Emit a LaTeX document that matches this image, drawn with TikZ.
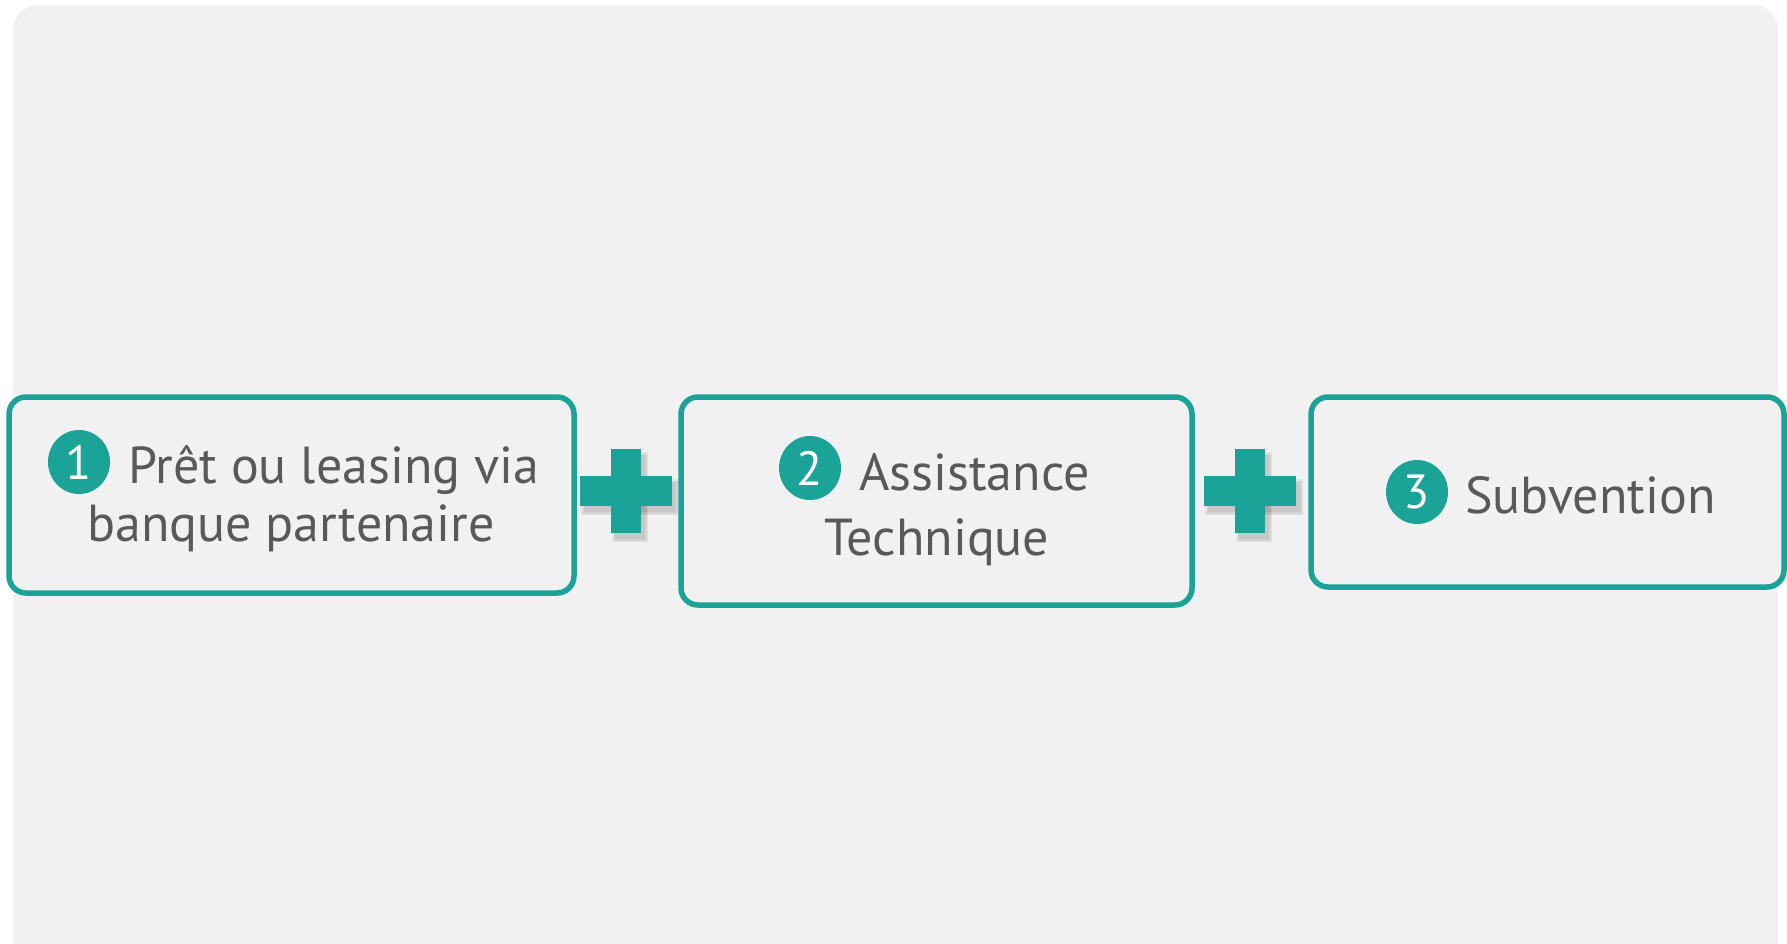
\documentclass[tikz,border=0pt]{standalone}
\usepackage{fontspec}
\setmainfont{PT Sans}
\usetikzlibrary{shapes.geometric}
\definecolor{teal1}{HTML}{1AA396}
\definecolor{bggray}{HTML}{F1F1F1}
\definecolor{txtgray}{HTML}{595959}
\tikzset{
  stepbox/.style={draw=teal1, line width=5.5pt, rounded corners=17pt, fill=bggray},
  numdot/.style={ellipse, fill=teal1, minimum width=62pt, minimum height=64pt, inner sep=0pt, text=white, font=\fontsize{48}{50}\selectfont},
  label/.style={text=txtgray, font=\fontsize{52}{56}\selectfont, inner sep=0pt, anchor=base},
  plusbar/.style={fill=teal1},
  plusshadow/.style={fill=black, opacity=0.06}
}
\begin{document}
\begin{tikzpicture}[x=1pt,y=-1pt]
\useasboundingbox (0,0) rectangle (1787,944);
\fill[white] (0,0) rectangle (1787,944);
\fill[bggray, rounded corners=25pt] (13,990) -- (13,5) -- (1778,5) -- (1778,990) -- cycle;
% boxes
\draw[stepbox] (9,397) rectangle (574,593);
\node[coordinate] (b1) at (291,495) {};
\draw[stepbox] (681,397) rectangle (1192,605);
\node[coordinate] (b2) at (936,501) {};
\draw[stepbox] (1311,397) rectangle (1784,587);
\node[coordinate] (b3) at (1547,492) {};
% box 1 texts
\node[numdot] (c1) at (79,462) {1};
\node[label, anchor=base west] (t1a) at (128,483) {Prêt ou leasing via};
\node[label] (t1b) at (291,541) {banque partenaire};
% box 2 texts
\node[numdot] (c2) at (810,468) {2};
\node[label, anchor=base west] (t2a) at (859,490) {Assistance};
\node[label] (t2b) at (937,555) {Technique};
% box 3 texts
\node[numdot] (c3) at (1417,492) {3};
\node[label, anchor=base west] (t3a) at (1465,513) {Subvention};
% plus signs
\foreach \cx/\nm in {626/p1, 1250/p2}{
  \foreach \g in {0,1.5,3}{
    \fill[plusshadow] (\cx-46+4-\g,491-15+6-\g) rectangle (\cx+46+4+\g,491+15+6+\g);
    \fill[plusshadow] (\cx-15+4-\g,491-42+6-\g) rectangle (\cx+15+4+\g,491+42+6+\g);
  }
  \fill[plusbar] (\cx-46,491-15) rectangle (\cx+46,491+15);
  \fill[plusbar] (\cx-15,491-42) rectangle (\cx+15,491+42);
  \node[coordinate] (\nm) at (\cx,491) {};
}
\end{tikzpicture}
\end{document}
